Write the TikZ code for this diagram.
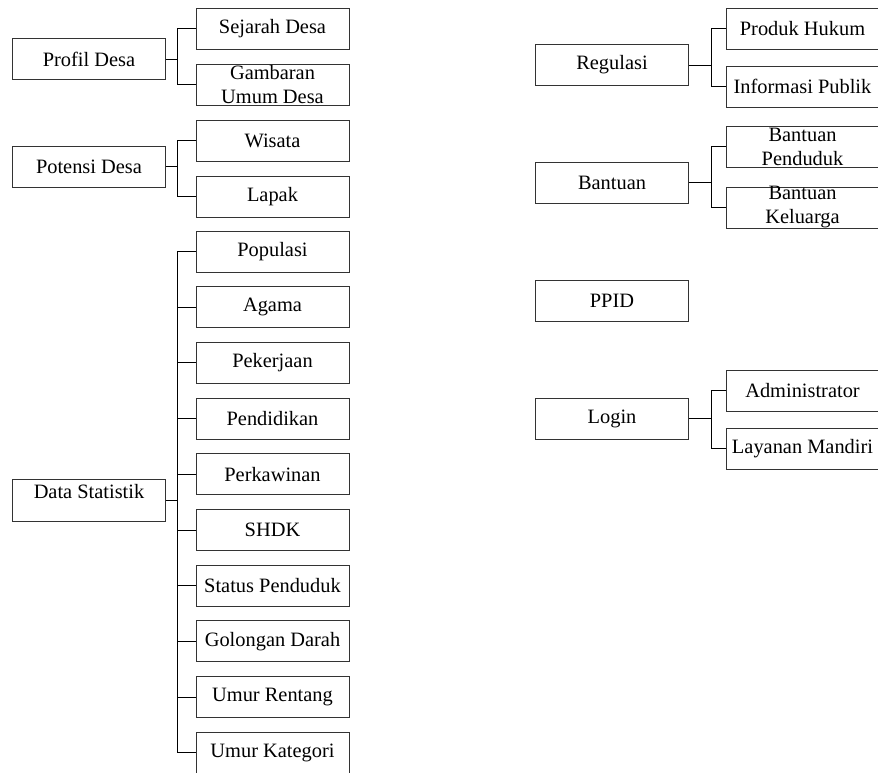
\documentclass[tikz,border=0pt]{standalone}
\usepackage{fontspec}
\setmainfont{Liberation Serif}
\tikzset{
	% ---- default
	every node/.style={font=\fontsize{20.4}{24}\selectfont},
	% ---- custom
	menu/.style={draw=black!80, line width=1pt, minimum width=153pt, minimum height=41pt, inner sep=0pt},
	submenu/.style={menu},
	twoline/.style={submenu, align=center, inner ysep=-3pt},
	branch/.style={line width=1pt, black},
}

\begin{document}
\begin{tikzpicture}[x=1pt, y=-1pt]

% parameters %{{{2

	\def\colL{89}
	\def\subL{272.5}
	\def\colR{612}
	\def\subR{802.5}
	\def\gap{55.7}

	\useasboundingbox (0,0) rectangle (878,772);
	\clip (0,0) rectangle (878,772);

% left menus %{{{2

	\node[menu] (profil) at (\colL,59) {Profil Desa};
	\node[menu] (potensi) at (\colL,166.5) {Potensi Desa};
	\node[menu, minimum height=42pt, text height=14pt, text depth=18pt] (statistik) at (\colL,500) {Data Statistik};

% left submenus %{{{3

	\node[submenu] (sejarah) at (\subL,28.5) {Sejarah Desa};
	\node[twoline] (gambaran) at (\subL,84.5) {Gambaran\\Umum Desa};
	\node[submenu] (wisata) at (\subL,140.5) {Wisata};
	\node[submenu] (lapak) at (\subL,196.5) {Lapak};

	\foreach \name [count=\i] in {Populasi, Agama, Pekerjaan, Pendidikan, Perkawinan, SHDK, Status Penduduk, Golongan Darah, Umur Rentang, Umur Kategori} {
		\node[submenu] (S\i) at (\subL,{251.5+\gap*(\i-1)}) {\name};
	}

% right menus %{{{2

	\node[menu] (regulasi) at (\colR,65) {Regulasi};
	\node[menu] (bantuan) at (\colR,182.5) {Bantuan};
	\node[menu] (ppid) at (\colR,301) {PPID};
	\node[menu] (login) at (\colR,418.5) {Login};

% right submenus %{{{3

	\node[submenu] (produk) at (\subR,28.5) {Produk Hukum};
	\node[submenu] (informasi) at (\subR,86.5) {Informasi Publik};
	\node[twoline] (penduduk) at (\subR,146.5) {Bantuan\\Penduduk};
	\node[twoline] (keluarga) at (\subR,207.5) {Bantuan\\Keluarga};
	\node[submenu] (admin) at (\subR,390.5) {Administrator};
	\node[submenu] (mandiri) at (\subR,448.5) {Layanan Mandiri};

% branches %{{{2

	\draw[branch] (profil.east) -- ++(11.5,0) coordinate (jprofil);
	\foreach \c in {sejarah, gambaran} { \draw[branch] (\c.west) -| (jprofil); }

	\draw[branch] (potensi.east) -- ++(11.5,0) coordinate (jpotensi);
	\foreach \c in {wisata, lapak} { \draw[branch] (\c.west) -| (jpotensi); }

	\draw[branch] (statistik.east) -- ++(11.5,0) coordinate (jstat);
	\foreach \i in {1,...,10} { \draw[branch] (S\i.west) -| (jstat); }

	\draw[branch] (regulasi.east) -- ++(22,0) coordinate (jregulasi);
	\foreach \c in {produk, informasi} { \draw[branch] (\c.west) -| (jregulasi); }

	\draw[branch] (bantuan.east) -- ++(22,0) coordinate (jbantuan);
	\foreach \c in {penduduk, keluarga} { \draw[branch] (\c.west) -| (jbantuan); }

	\draw[branch] (login.east) -- ++(22,0) coordinate (jlogin);
	\foreach \c in {admin, mandiri} { \draw[branch] (\c.west) -| (jlogin); }

% closing %{{{2

\end{tikzpicture}
\end{document}
